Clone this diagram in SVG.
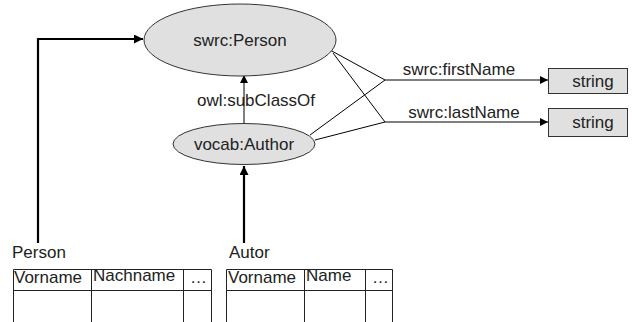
<svg xmlns="http://www.w3.org/2000/svg" width="632" height="322" viewBox="0 0 632 322">
<defs>
<marker id="ah" viewBox="0 0 10 10" refX="10" refY="5" markerWidth="8" markerHeight="8" markerUnits="userSpaceOnUse" orient="auto"><path d="M0,0 L10,5 L0,10 z" fill="#000"/></marker>
<marker id="ahb" viewBox="0 0 10 10" refX="10" refY="5" markerWidth="9" markerHeight="9" markerUnits="userSpaceOnUse" orient="auto"><path d="M0,0 L10,5 L0,10 z" fill="#000"/></marker>
</defs>
<style>
text{font-family:"Liberation Sans",Arial,sans-serif;font-size:17px;fill:#222}
.c{text-anchor:middle}
.node{fill:#e0e0e0;stroke:#333;stroke-width:1}
.thin{fill:none;stroke:#000;stroke-width:1}
.thick{fill:none;stroke:#000;stroke-width:2.2}
.tbl{fill:none;stroke:#222;stroke-width:1}
</style>
<rect width="632" height="322" fill="#fff"/>
<g id="connectors">
<polyline class="thick" points="38,243 38,39 143,39" marker-end="url(#ahb)"/>
<line class="thick" x1="244" y1="243" x2="244" y2="166" marker-end="url(#ahb)"/>
<line class="thin" x1="244" y1="123" x2="244" y2="75" marker-end="url(#ah)"/>
<text class="c" x="256" y="106">owl:subClassOf</text>
<polyline class="thin" points="330,50 385,80"/>
<polyline class="thin" points="333,53 385,122"/>
<polyline class="thin" points="310,135 385,80"/>
<polyline class="thin" points="315,140 385,122"/>
<line class="thin" x1="385" y1="80" x2="548" y2="80" marker-end="url(#ah)"/>
<line class="thin" x1="385" y1="122" x2="548" y2="122" marker-end="url(#ah)"/>
<text class="c" x="459" y="75">swrc:firstName</text>
<text class="c" x="464" y="118">swrc:lastName</text>
</g>
<g id="swrcPerson">
<ellipse class="node" cx="240" cy="40" rx="96" ry="36"/>
<text class="c" x="240" y="46">swrc:Person</text>
</g>
<g id="vocabAuthor">
<ellipse class="node" cx="244" cy="144" rx="71" ry="20.5"/>
<text class="c" x="244" y="150">vocab:Author</text>
</g>
<g id="string1">
<rect class="node" x="548.5" y="68.5" width="79" height="25"/>
<text class="c" x="593" y="87">string</text>
</g>
<g id="string2">
<rect class="node" x="548.5" y="108.5" width="79" height="28"/>
<text class="c" x="593" y="128">string</text>
</g>
<g id="tablePerson">
<text x="12" y="258">Person</text>
<path class="tbl" d="M13.5,322 V269.5 H211.5 V322 M13.5,290.5 H211.5 M91.5,269.5 V322 M183.5,269.5 V322"/>
<text x="14" y="283">Vorname</text>
<text x="93" y="281">Nachname</text>
<text x="190" y="283">…</text>
</g>
<g id="tableAutor">
<text x="229" y="258">Autor</text>
<path class="tbl" d="M226.5,322 V269.5 H392.5 V322 M226.5,290.5 H392.5 M304.5,269.5 V322 M365.5,269.5 V322"/>
<text x="228" y="283">Vorname</text>
<text x="306" y="281">Name</text>
<text x="372" y="283">…</text>
</g>
</svg>
